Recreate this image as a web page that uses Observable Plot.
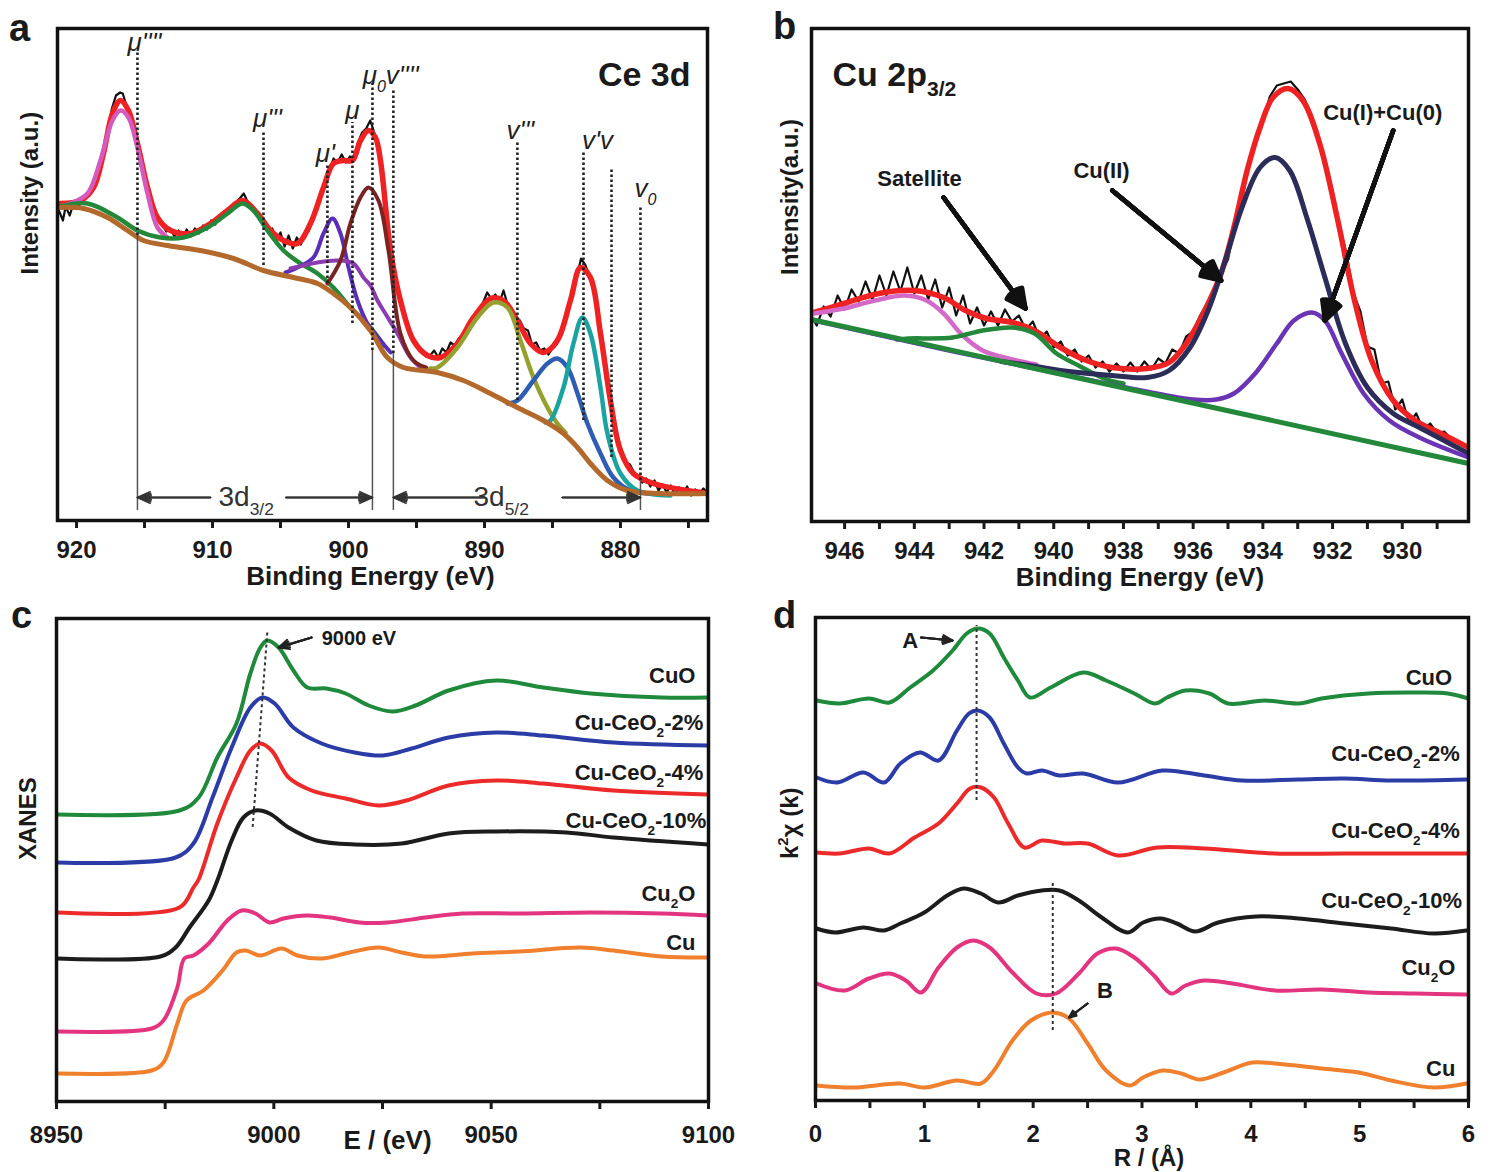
<!DOCTYPE html>
<html><head><meta charset="utf-8">
<script src="https://cdn.jsdelivr.net/npm/d3@7"></script>
<script src="https://cdn.jsdelivr.net/npm/@observablehq/plot@0.6"></script>
<style>
body{margin:0;background:#fff;}
#fig{position:relative;width:1493px;height:1172px;background:#fff;overflow:hidden;}
#fig > svg{position:absolute;}
</style></head><body><div id="fig"></div>
<script>
const FONT = "'Liberation Sans', Arial, Helvetica, sans-serif";

// ---------------- Panel a : Ce 3d XPS (x = binding energy eV, y = intensity a.u.) ----------------
const ceTicks = [920, 910, 900, 890, 880];
const ceMinorTicks = [915, 905, 895, 885, 875];
const ceRaw = [[921.3,310],[921.0,300],[920.8,314],[920.5,305],[920.2,318],[919.9,312],[919.6,322],[919.2,326],[918.9,330],[918.6,338],[918.3,352],[918.0,370],[917.7,390],[917.4,412],[917.1,425],[916.8,428],[916.6,427],[916.4,418],[916.1,405],[915.8,392],[915.5,378],[915.2,360],[914.9,342],[914.6,322],[914.3,310],[914.0,302],[913.7,296],[913.4,289],[913.1,292],[912.8,284],[912.5,290],[912.2,283],[911.9,291],[911.6,284],[911.3,292],[911.0,287],[910.7,295],[910.4,291],[910.1,300],[909.8,296],[909.5,305],[909.2,303],[908.9,312],[908.6,311],[908.3,318],[908.0,322],[907.7,327],[907.4,318],[907.1,315],[906.8,310],[906.5,300],[906.2,296],[905.9,288],[905.6,292],[905.3,280],[905.0,288],[904.7,274],[904.4,285],[904.1,272],[903.8,283],[903.5,276],[903.2,287],[902.9,290],[902.6,302],[902.3,312],[902.0,326],[901.7,340],[901.4,350],[901.1,362],[900.8,358],[900.5,366],[900.2,358],[899.9,364],[899.6,360],[899.3,378],[899.0,388],[898.7,392],[898.4,400],[898.2,392],[897.9,378],[897.6,356],[897.3,320],[897.0,282],[896.7,255],[896.4,232],[896.1,215],[895.8,200],[895.5,188],[895.2,180],[894.9,172],[894.6,168],[894.3,164],[894.0,165],[893.7,170],[893.4,163],[893.1,172],[892.8,168],[892.5,178],[892.2,175],[891.9,182],[891.6,186],[891.3,194],[891.0,198],[890.7,207],[890.4,212],[890.1,218],[889.8,228],[889.5,222],[889.2,226],[888.9,218],[888.6,230],[888.3,216],[888.0,212],[887.7,203],[887.4,200],[887.1,192],[886.8,190],[886.5,176],[886.2,178],[885.9,170],[885.6,172],[885.3,166],[885.0,172],[884.7,176],[884.4,186],[884.1,198],[883.8,214],[883.5,230],[883.2,244],[882.9,262],[882.6,256],[882.3,245],[882.0,232],[881.7,212],[881.4,188],[881.1,160],[880.8,126],[880.5,102],[880.2,82],[879.9,70],[879.6,58],[879.3,56],[879.0,48],[878.7,44],[878.4,38],[878.1,42],[877.8,34],[877.5,40],[877.2,30],[876.9,36],[876.6,28],[876.3,35],[876.0,26],[875.7,33],[875.4,28],[875.1,34],[874.8,25],[874.5,31],[874.2,27],[873.9,32],[873.6,28]];
const ceFit = [[921.18,317],[919.71,320],[918.75,333],[918.02,367],[917.36,407],[916.77,420],[916.18,410],[915.52,377],[914.78,333],[914.05,303],[913.09,290],[911.62,287],[910.15,297],[908.90,310],[907.80,320],[906.69,307],[905.74,290],[904.78,280],[903.75,277],[902.80,297],[901.84,333],[901.11,357],[900.37,360],[899.71,360],[899.12,380],[898.53,390],[898.02,383],[897.65,360],[896.91,270],[896.18,220],[895.22,180],[894.19,165],[893.24,163],[891.99,177],[890.81,203],[889.56,222],[888.61,220],[887.58,200],[886.62,177],[885.66,168],[884.64,180],[883.68,220],[882.94,253],[882.21,243],[881.47,187],[880.74,120],[880.00,70],[879.05,47],[877.58,37],[875.08,30],[873.6,27]];
const cePeak917 = [[921.0,315],[920.44,317],[919.19,327],[918.24,360],[917.36,400],[916.77,410],[916.18,403],[915.52,373],[914.78,327],[914.05,293],[913.31,283]];
const cePeak907 = [[921.2,314],[919.19,317],[916.99,303],[915.52,290],[913.83,283],[912.14,283],[910.37,293],[908.90,307],[907.80,317],[906.99,310],[905.96,290],[904.78,270],[903.53,257],[902.28,247],[901.11,233],[899.86,213],[898.39,193],[897.4,175]];
const cePeak901 = [[904.63,248],[903.75,253],[902.58,263],[901.84,287],[901.18,302],[900.59,287],[900.00,253],[899.34,220],[898.61,197],[897.65,180],[896.9,168]];
const cePeak900 = [[904.27,252],[902.28,258],[900.81,260],[899.64,257],[898.90,243],[898.39,235],[897.87,220],[897.2,205],[896.40,187],[895.44,163],[894.6,152]];
const cePeak898 = [[901.55,237],[900.59,260],[899.86,297],[899.12,323],[898.53,333],[897.80,320],[897.06,270],[896.18,187],[895.22,160],[894.3,153]];
const cePeak889 = [[894.0,152],[893.46,153],[891.99,173],[890.52,203],[889.34,218],[888.31,213],[887.36,180],[886.40,143],[885.37,113],[884.64,97],[884.05,88]];
const cePeak885 = [[888.3,117],[887.58,120],[886.40,140],[885.37,157],[884.64,162],[883.90,153],[883.16,127],[882.43,97],[881.47,67],[880.52,43],[879.27,30],[877.06,27]];
const cePeak882 = [[885.52,98],[885.15,100],[884.19,133],[883.46,177],[882.80,203],[882.21,187],[881.47,133],[880.96,87],[880.00,47],[878.75,30],[876.33,25]];
const ceBackground = [[921.18,313],[919.49,312],[917.72,303],[916.25,290],[915.08,280],[913.31,275],[910.89,270],[908.46,262],[906.25,250],[904.05,243],[902.28,237],[901.11,227],[899.86,213],[898.39,190],[897.14,163],[895.96,153],[893.46,148],[891.55,140],[889.56,127],[887.58,113],[885.66,100],[884.19,87],[883.16,73],[882.21,57],[880.96,40],[879.49,30],[877.06,27],[873.6,27]];
const ceMarkers = [
  {x: 915.52, top: 468, bottom: 285, solidTo: 10},
  {x: 906.25, top: 390, bottom: 255},
  {x: 901.55, top: 355, bottom: 237},
  {x: 899.71, top: 398, bottom: 197},
  {x: 898.24, top: 437, bottom: 170, solidTo: 10},
  {x: 896.70, top: 432, bottom: 167, solidTo: 10},
  {x: 887.58, top: 380, bottom: 120},
  {x: 882.72, top: 370, bottom: 100},
  {x: 880.66, top: 352, bottom: 63},
  {x: 878.53, top: 315, bottom: 40, solidTo: 10}
];
const ceMarkerLabels = [
  {text: "μ''''", x: 915.0, y: 478},
  {text: "μ'''", x: 905.96, y: 402},
  {text: "μ'", x: 901.7, y: 367},
  {text: "μ", x: 899.71, y: 410},
  {text: "μ_{0}v''''", x: 896.9, y: 445},
  {text: "v'''", x: 887.36, y: 390},
  {text: "v'v", x: 881.69, y: 380},
  {text: "v_{0}", x: 878.16, y: 332}
];
const ceSpinOrbit = [
  {text: "3d_{3/2}", textX: 909.56, gapL: 910.15, end1: 915.52, gapR: 904.6, end2: 898.24},
  {text: "3d_{5/2}", textX: 890.81, gapL: 890.0, end1: 896.70, gapR: 884.27, end2: 878.53}
];
const ceArrowY = 23;

// ---------------- Panel b : Cu 2p3/2 XPS ----------------
const cuTicks = [946, 944, 942, 940, 938, 936, 934, 932, 930];
const cuMinorTicks = [945, 943, 941, 939, 937, 935, 933, 931, 929];
const cuRaw = [[946.95,205],[946.8,196],[946.6,215],[946.4,205],[946.2,226],[946.0,212],[945.8,232],[945.6,220],[945.4,240],[945.2,222],[945.0,246],[944.8,226],[944.6,250],[944.4,230],[944.2,254],[944.0,228],[943.8,246],[943.6,222],[943.4,242],[943.2,214],[943.0,234],[942.8,206],[942.6,226],[942.4,198],[942.2,214],[942.0,196],[941.8,210],[941.6,196],[941.4,212],[941.2,200],[941.0,206],[940.8,192],[940.6,200],[940.4,183],[940.2,190],[940.0,174],[939.8,180],[939.6,166],[939.4,172],[939.2,160],[939.0,166],[938.8,154],[938.6,160],[938.4,150],[938.2,158],[938.0,150],[937.8,159],[937.6,150],[937.4,160],[937.2,152],[937.0,163],[936.8,158],[936.6,172],[936.4,168],[936.2,185],[936.0,190],[935.8,206],[935.6,218],[935.4,232],[935.2,248],[935.0,262],[934.8,298],[934.6,320],[934.4,360],[934.2,380],[934.0,402],[933.8,425],[933.6,436],[933.4,438],[933.2,440],[933.0,432],[932.8,422],[932.6,405],[932.4,382],[932.2,355],[932.0,330],[931.8,296],[931.6,268],[931.4,228],[931.2,210],[931.0,175],[930.8,172],[930.6,138],[930.4,140],[930.2,112],[930.0,122],[929.8,98],[929.6,108],[929.4,92],[929.2,98],[929.0,88],[928.8,90],[928.5,80],[928.1,75]];
const cuFit = [[946.88,209],[946.02,218],[945.02,228],[944.02,231],[943.16,224],[942.53,211],[941.93,203],[941.18,199],[940.55,191],[939.81,174],[939.06,161],[938.32,154],[937.32,153],[936.69,159],[936.20,178],[935.71,208],[935.20,248],[934.83,294],[934.45,351],[934.08,394],[933.71,424],[933.28,433],[932.85,421],[932.37,378],[931.85,301],[931.37,221],[930.88,161],[930.26,121],[929.63,101],[928.89,88],[928.1,74]];
const cuSatellite944 = [[946.88,208],[946.02,213],[945.13,221],[944.28,226],[943.65,221],[943.16,208],[942.67,188],[942.04,171],[941.41,164],[940.5,157]];
const cuSatellite941 = [[944.5,182],[944.16,183],[942.90,184],[942.04,191],[941.18,194],[940.55,188],[939.92,168],[939.29,156],[938.55,143],[938.0,138]];
const cuII = [[941.5,160],[940.5,155],[939.8,151],[938.32,146],[937.32,144],[936.69,151],[936.09,174],[935.57,211],[935.08,261],[934.60,314],[934.08,354],[933.65,364],[933.23,351],[932.74,304],[932.22,244],[931.63,178],[931.00,134],[930.26,108],[929.51,94],[928.1,68]];
const cuI0 = [[946.88,201],[943.0,171],[940.0,149],[937.5,131],[936.0,122],[935.34,122],[934.83,128],[934.22,148],[933.60,178],[933.11,201],[932.59,209],[932.22,201],[931.74,168],[931.11,128],[930.37,101],[929.51,84],[928.1,64]];
const cuBaseline = [[946.95,202],[928.1,58]];
const cuNotes = [
  {text: "Satellite", x: 943.85, y: 343, x1: 943.16, y1: 324, x2: 940.81, y2: 213},
  {text: "Cu(II)", x: 938.63, y: 351, x1: 938.32, y1: 331, x2: 935.20, y2: 241},
  {text: "Cu(I)+Cu(0)", x: 930.56, y: 409, x1: 930.26, y1: 391, x2: 932.22, y2: 201}
];

// ---------------- Panel c : XANES ----------------
const xanesTicks = [8950, 9000, 9050, 9100];
const xanesMinorTicks = [8975, 9025, 9075];
const xanesCuO = [[8950.2,287],[8978.3,291],[8982.7,304],[8987.0,344],[8991.4,378],[8994.6,428],[8996.9,454],[8998.5,461],[9001.1,454],[9004.5,431],[9007.7,414],[9012.1,413],[9016.5,408],[9021.8,396],[9027.3,390],[9032.6,396],[9040.2,411],[9051.2,421],[9062.0,414],[9072.9,408],[9089.2,404],[9100,404]];
const xanes2 = [[8950.2,239],[8977.4,244],[8981.5,258],[8985.9,304],[8990.3,354],[8994.6,394],[8997.4,404],[9000.2,398],[9004.5,374],[9011.0,358],[9018.6,349],[9025.0,346],[9031.7,353],[9040.2,364],[9051.2,369],[9062.0,366],[9078.1,359],[9100,356]];
const xanes4 = [[8950.2,189],[8978.3,194],[8981.5,214],[8982.7,222],[8987.0,278],[8991.4,324],[8994.6,351],[8996.9,358],[8999.5,351],[9003.4,324],[9008.7,311],[9016.5,303],[9024.1,296],[9030.5,301],[9040.2,316],[9051.2,321],[9062.0,318],[9078.1,311],[9100,307]];
const xanes10 = [[8950.2,143],[8973.9,145],[8977.4,154],[8980.6,174],[8985.0,201],[8987.0,221],[8990.3,261],[8993.0,284],[8995.8,291],[8999.0,288],[9003.4,274],[9009.8,261],[9018.6,257],[9029.4,258],[9040.2,268],[9051.2,270],[9067.3,269],[9078.1,264],[9100,257]];
const xanesCu2O = [[8950.2,70],[8971.9,73],[8974.6,81],[8977.8,114],[8979.4,143],[8981.5,146],[8985.0,158],[8989.3,181],[8992.6,191],[8995.8,188],[8999.0,179],[9002.2,183],[9007.7,186],[9013.0,184],[9019.7,179],[9026.1,179],[9034.9,184],[9043.4,188],[9056.5,188],[9072.9,189],[9089.2,188],[9100,186]];
const xanesCu = [[8950.2,28],[8971.9,31],[8974.6,39],[8977.8,78],[8979.9,101],[8983.8,111],[8988.2,131],[8991.4,149],[8993.5,151],[8996.9,146],[9001.8,153],[9005.4,146],[9011.0,143],[9017.4,149],[9024.1,154],[9029.4,149],[9034.9,145],[9045.7,148],[9056.5,150],[9070.6,154],[9078.1,151],[9089.2,145],[9100,144]];
const xanesLabels = [
  {text: "CuO", x: 9097, y: 426},
  {text: "Cu-CeO_{2}-2%", x: 9098.8, y: 379},
  {text: "Cu-CeO_{2}-4%", x: 9098.8, y: 329},
  {text: "Cu-CeO_{2}-10%", x: 9099.5, y: 281},
  {text: "Cu_{2}O", x: 9097, y: 208},
  {text: "Cu", x: 9097, y: 159}
];

// ---------------- Panel d : EXAFS FT ----------------
const rTicks = [0, 1, 2, 3, 4, 5, 6];
const rMinorTicks = [0.5, 1.5, 2.5, 3.5, 4.5, 5.5];
const exafsCuO = [[0.01,400],[0.22,397],[0.49,402],[0.68,398],[0.87,413],[1.08,430],[1.26,450],[1.39,467],[1.49,472],[1.60,467],[1.73,443],[1.86,420],[1.97,403],[2.16,413],[2.46,428],[2.67,420],[2.93,407],[3.12,397],[3.23,403],[3.40,410],[3.62,407],[3.79,397],[4.13,400],[4.44,397],[4.65,402],[5.08,407],[5.51,408],[5.81,407],[6.0,402]];
const exafs2 = [[0.01,323],[0.20,318],[0.44,328],[0.63,318],[0.78,337],[0.96,348],[1.13,340],[1.30,370],[1.41,387],[1.49,390],[1.60,383],[1.73,357],[1.86,333],[1.94,327],[2.08,330],[2.24,325],[2.46,327],[2.78,318],[3.19,330],[3.57,325],[3.92,320],[4.44,321],[4.86,322],[5.29,320],[5.98,321]];
const exafs4 = [[0.01,248],[0.22,247],[0.49,252],[0.68,247],[0.91,263],[1.13,277],[1.30,297],[1.42,312],[1.52,313],[1.64,303],[1.77,277],[1.92,253],[2.08,260],[2.29,257],[2.50,257],[2.78,245],[3.14,253],[3.57,252],[4.22,247],[4.86,247],[5.98,247]];
const exafs10 = [[0.01,172],[0.18,168],[0.44,173],[0.63,170],[0.78,177],[1.00,188],[1.21,205],[1.36,212],[1.52,207],[1.68,198],[1.86,205],[2.08,210],[2.24,210],[2.42,200],[2.63,183],[2.87,168],[3.01,178],[3.17,182],[3.32,177],[3.49,169],[3.70,178],[4.05,184],[4.44,182],[4.86,177],[5.29,172],[5.68,167],[5.98,170]];
const exafsCu2O = [[0.01,117],[0.27,110],[0.49,122],[0.68,127],[0.83,120],[0.97,108],[1.13,133],[1.30,153],[1.45,160],[1.60,153],[1.81,128],[2.03,107],[2.21,107],[2.42,127],[2.59,147],[2.76,152],[2.93,143],[3.11,125],[3.27,107],[3.40,115],[3.57,120],[3.83,117],[4.22,110],[4.65,111],[5.08,108],[5.51,107],[5.98,106]];
const exafsCu = [[0.01,15],[0.35,13],[0.78,17],[1.00,13],[1.30,20],[1.52,17],[1.64,30],[1.81,60],[1.98,80],[2.18,88],[2.33,82],[2.50,57],[2.67,30],[2.89,15],[3.01,23],[3.19,30],[3.36,27],[3.53,21],[3.75,28],[4.01,38],[4.22,37],[4.65,32],[4.99,28],[5.29,20],[5.68,13],[5.98,17]];
const exafsLabels = [
  {text: "CuO", x: 5.85, y: 423},
  {text: "Cu-CeO_{2}-2%", x: 5.92, y: 347},
  {text: "Cu-CeO_{2}-4%", x: 5.92, y: 270},
  {text: "Cu-CeO_{2}-10%", x: 5.94, y: 200},
  {text: "Cu_{2}O", x: 5.88, y: 133},
  {text: "Cu", x: 5.88, y: 32}
];

const C = {green: "#1f8a3c", blue: "#2b3ca6", red: "#ec2a2a", black: "#1c1c1c", pink: "#e3357f", orange: "#f0802e"};

// ---------------- helpers ----------------
function L(data, stroke, strokeWidth, curve = "catmull-rom") {
  return Plot.line(data, {x: d => d[0], y: d => d[1], stroke, strokeWidth, curve, clip: true, strokeLinejoin: "round", strokeLinecap: "round"});
}
// arrow with a filled-looking head: the same arrow drawn with several head angles
function fatArrow(data, options, angles) {
  return angles.map(a => Plot.arrow(data, {...options, headAngle: a}));
}
function axes(major, minor, pad) {
  return [
    Plot.axisX({ticks: major, tickSize: 8, tickPadding: pad, fontSize: 24, strokeWidth: 3, tickFormat: d => String(d)}),
    Plot.axisX({ticks: minor, tickSize: 8, tickFormat: () => "", strokeWidth: 3})
  ];
}
function base(w, h, ml, mr, mt, mb, xd, yd, marks) {
  return Plot.plot({
    width: w, height: h, marginLeft: ml, marginRight: mr, marginTop: mt, marginBottom: mb,
    x: {domain: xd}, y: {domain: yd, axis: null},
    style: {fontFamily: FONT, fontWeight: "bold", color: "#1a1a1a", background: "transparent", overflow: "visible"},
    marks
  });
}
function panelLetter(letter, dx, dy) {
  return Plot.text([letter], {frameAnchor: "top-left", dx, dy, fontSize: 38, textAnchor: "middle", lineAnchor: "bottom"});
}

// ---------------- Panel a ----------------
const plotA = base(746, 600, 57, 39, 28, 80, [921.4, 873.6], [0, 492], [
  L(ceRaw, "#111", 2.2, "linear"),
  L(ceFit, "#ee2222", 5.5),
  L(cePeak917, "#d45bbd", 4.5),
  L(cePeak907, "#23883a", 4.5),
  L(cePeak901, "#5a2eb8", 4),
  L(cePeak900, "#8a3cb0", 4),
  L(cePeak898, "#7a2323", 4),
  L(cePeak889, "#95a02e", 4.5),
  L(cePeak885, "#2f5db2", 4.5),
  L(cePeak882, "#1aa3a0", 4.5),
  L(ceBackground, "#b2692b", 5),
  Plot.ruleX(ceMarkers, {x: "x", y1: "bottom", y2: "top", stroke: "#222", strokeWidth: 2.6, strokeDasharray: "2.5,2.5"}),
  Plot.ruleX(ceMarkers.filter(d => d.solidTo != null), {x: "x", y1: "solidTo", y2: "bottom", stroke: "#555", strokeWidth: 1.5}),
  Plot.text(ceMarkerLabels, {x: "x", y: "y", text: "text", fontSize: 26, fontStyle: "italic", fontWeight: "normal", fill: "#222"}),
  ...fatArrow(ceSpinOrbit, {x1: "gapL", x2: "end1", y1: () => ceArrowY, y2: () => ceArrowY, stroke: "#333", strokeWidth: 1.6, headLength: 13}, [50, 38, 26, 14]),
  ...fatArrow(ceSpinOrbit, {x1: "gapR", x2: "end2", y1: () => ceArrowY, y2: () => ceArrowY, stroke: "#333", strokeWidth: 1.6, headLength: 13}, [50, 38, 26, 14]),
  Plot.text(ceSpinOrbit, {x: "textX", y: () => ceArrowY, text: "text", textAnchor: "start", fontSize: 28, fontWeight: "normal", fill: "#333"}),
  Plot.frame({stroke: "#111", strokeWidth: 3.5}),
  ...axes(ceTicks, ceMinorTicks, 12),
  Plot.text(["Ce 3d"], {frameAnchor: "top-right", dx: -17, dy: 57, textAnchor: "end", lineAnchor: "bottom", fontSize: 34}),
  Plot.text(["Intensity (a.u.)"], {frameAnchor: "left", rotate: -90, dx: -27, fontSize: 24, lineAnchor: "middle"}),
  Plot.text(["Binding Energy (eV)"], {frameAnchor: "bottom", dx: -12, dy: 56, lineAnchor: "middle", fontSize: 26}),
  panelLetter("a", -38, 12)
]);

// ---------------- Panel b ----------------
const plotB = base(747, 600, 65, 25, 28, 79, [946.95, 928.1], [0, 493], [
  L(cuRaw, "#111", 2.2, "linear"),
  L(cuFit, "#ee2222", 5.5),
  L(cuSatellite944, "#d46ac8", 4.5),
  L(cuSatellite941, "#23883a", 4.5),
  L(cuII, "#2c2c58", 5),
  L(cuI0, "#6a35b5", 4.5),
  L(cuBaseline, "#23883a", 5, "linear"),
  ...fatArrow(cuNotes, {x1: "x1", y1: "y1", x2: "x2", y2: "y2", stroke: "#111", strokeWidth: 4.5, headLength: 7}, [54, 44, 34, 24, 14, 4]),
  Plot.text(cuNotes, {x: "x", y: "y", text: "text", fontSize: 22}),
  Plot.frame({stroke: "#111", strokeWidth: 3.5}),
  ...axes(cuTicks, cuMinorTicks, 12),
  Plot.text(["Cu 2p_{3/2}"], {frameAnchor: "top-left", dx: 21, dy: 57, textAnchor: "start", lineAnchor: "bottom", fontSize: 34}),
  Plot.text(["Intensity(a.u.)"], {frameAnchor: "left", rotate: -90, dx: -21, fontSize: 24, lineAnchor: "middle"}),
  Plot.text(["Binding Energy (eV)"], {frameAnchor: "bottom", dy: 56, lineAnchor: "middle", fontSize: 26}),
  panelLetter("b", -27, 10)
]);

// ---------------- Panel c ----------------
const plotC = base(746, 572, 56, 38, 18, 71, [8950, 9100], [0, 483], [
  L(xanesCuO, C.green, 4),
  L(xanes2, C.blue, 4),
  L(xanes4, C.red, 4),
  L(xanes10, C.black, 4),
  L(xanesCu2O, C.pink, 4),
  L(xanesCu, C.orange, 4),
  Plot.link([{x1: 8998.5, y1: 469, x2: 8995.1, y2: 273}], {x1: "x1", y1: "y1", x2: "x2", y2: "y2", stroke: "#333", strokeWidth: 2, strokeDasharray: "3,3"}),
  ...fatArrow([{x1: 9008.7, y1: 464, x2: 9001.1, y2: 454}], {x1: "x1", y1: "y1", x2: "x2", y2: "y2", stroke: "#222", strokeWidth: 2, headLength: 10}, [50, 30, 10]),
  Plot.text(["9000 eV"], {x: () => 9011.0, y: () => 463, textAnchor: "start", fontSize: 20}),
  Plot.text(xanesLabels, {x: "x", y: "y", text: "text", textAnchor: "end", fontSize: 22}),
  Plot.frame({stroke: "#111", strokeWidth: 3.5}),
  ...axes(xanesTicks, xanesMinorTicks, 16),
  Plot.text(["XANES"], {frameAnchor: "left", rotate: -90, dx: -28, fontSize: 24, lineAnchor: "middle"}),
  Plot.text(["E / (eV)"], {frameAnchor: "bottom", dx: 5, dy: 39, lineAnchor: "middle", fontSize: 26}),
  panelLetter("c", -35, 9)
]);

// ---------------- Panel d ----------------
const plotD = base(747, 572, 69, 25, 17, 72, [0, 6], [0, 483], [
  L(exafsCuO, C.green, 4),
  L(exafs2, C.blue, 4),
  L(exafs4, C.red, 4),
  L(exafs10, C.black, 4),
  L(exafsCu2O, C.pink, 4),
  L(exafsCu, C.orange, 4),
  Plot.ruleX([{x: 1.48, y1: 300, y2: 475}, {x: 2.18, y1: 70, y2: 220}], {x: "x", y1: "y1", y2: "y2", stroke: "#333", strokeWidth: 2, strokeDasharray: "3,3"}),
  ...fatArrow([{x1: 0.97, y1: 463, x2: 1.26, y2: 460}, {x1: 2.50, y1: 97, x2: 2.33, y2: 83}], {x1: "x1", y1: "y1", x2: "x2", y2: "y2", stroke: "#222", strokeWidth: 2, headLength: 9}, [50, 30, 10]),
  Plot.text([{t: "A", x: 0.87, y: 460}, {t: "B", x: 2.66, y: 110}], {x: "x", y: "y", text: "t", fontSize: 22}),
  Plot.text(exafsLabels, {x: "x", y: "y", text: "text", textAnchor: "end", fontSize: 22}),
  Plot.frame({stroke: "#111", strokeWidth: 3.5}),
  ...axes(rTicks, rMinorTicks, 16),
  Plot.text(["k^{2}χ (k)"], {frameAnchor: "left", rotate: -90, dx: -25, fontSize: 24, lineAnchor: "middle"}),
  Plot.text(["R / (Å)"], {frameAnchor: "bottom", dx: 7, dy: 58, lineAnchor: "middle", fontSize: 24}),
  panelLetter("d", -31, 10)
]);

// ---------------- layout ----------------
const fig = document.getElementById("fig");
[[plotA, 0, 0], [plotB, 746, 0], [plotC, 0, 600], [plotD, 746, 600]].forEach(([p, l, t]) => {
  p.style.left = l + "px"; p.style.top = t + "px";
  fig.appendChild(p);
});

// rich text: _{..} subscripts, ^{..} superscripts
function richify(svg) {
  svg.querySelectorAll("text").forEach(t => {
    const s = t.textContent;
    if (!/[_^]\{/.test(s)) return;
    const fs = parseFloat(getComputedStyle(t).fontSize) || 20;
    while (t.firstChild) t.removeChild(t.firstChild);
    const re = /([_^])\{([^}]*)\}/g;
    let last = 0, m, offset = 0;
    const add = (str, kind) => {
      if (!str) return;
      const sp = document.createElementNS("http://www.w3.org/2000/svg", "tspan");
      const target = kind === "_" ? 0.32 * fs : kind === "^" ? -0.42 * fs : 0;
      sp.setAttribute("dy", (target - offset).toFixed(2));
      offset = target;
      if (kind) sp.setAttribute("font-size", (0.62 * fs).toFixed(1));
      sp.textContent = str;
      t.appendChild(sp);
    };
    while ((m = re.exec(s))) { add(s.slice(last, m.index), null); add(m[2], m[1]); last = re.lastIndex; }
    add(s.slice(last), null);
  });
}
[plotA, plotB, plotC, plotD].forEach(richify);
</script></body></html>
